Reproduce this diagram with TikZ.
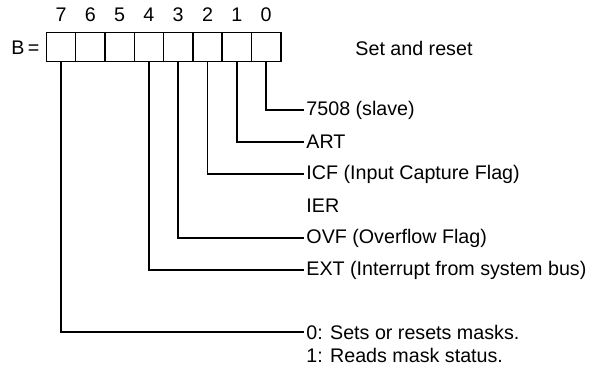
\documentclass[tikz,border=0pt]{standalone}
\usepackage{fontspec}
\setmainfont{Liberation Sans}
\usetikzlibrary{positioning}

\begin{document}
\begin{tikzpicture}[x=0.02cm,y=-0.02cm,line width=0.8pt,
    every node/.style={font=\fontsize{11.2}{13}\selectfont},
    cell/.style={draw,minimum width=0.588cm,minimum height=0.586cm,inner sep=0pt},
    lbl/.style={anchor=west,inner sep=1pt}]
  \useasboundingbox (0,0) rectangle (592,374);

  % register B, bit 7 on the left
  \node[anchor=east,inner sep=0pt] (B) at (40,48) {B\,=};
  \foreach \b [count=\i from 0] in {7,6,5,4,3,2,1,0} {
    \node[cell] (c\b) at ({61+29.3*\i},47) {};
    \node (n\b) at ({61+29.3*\i},15) {\b};
  }
  \node[lbl] (set) at (353,48) {Set and reset};

  % bit labels
  \node[lbl] (l0) at (304,110) {7508 (slave)};
  \node[lbl] (l1) at (304,142) {ART};
  \node[lbl] (l2) at (304,174) {ICF (Input Capture Flag)};
  \node[lbl] (ier) at (304,206) {IER};
  \node[lbl] (l3) at (304,238) {OVF (Overflow Flag)};
  \node[lbl] (l4) at (304,270) {EXT (Interrupt from system bus)};
  \node[lbl] (l7) at (304,332) {0: Sets or resets masks.};
  \node[lbl] (l7b) at (304,355) {1: Reads mask status.};

  \foreach \b in {0,1,2,3,4,7}
    \draw (c\b.south) |- (l\b.west);
\end{tikzpicture}
\end{document}
